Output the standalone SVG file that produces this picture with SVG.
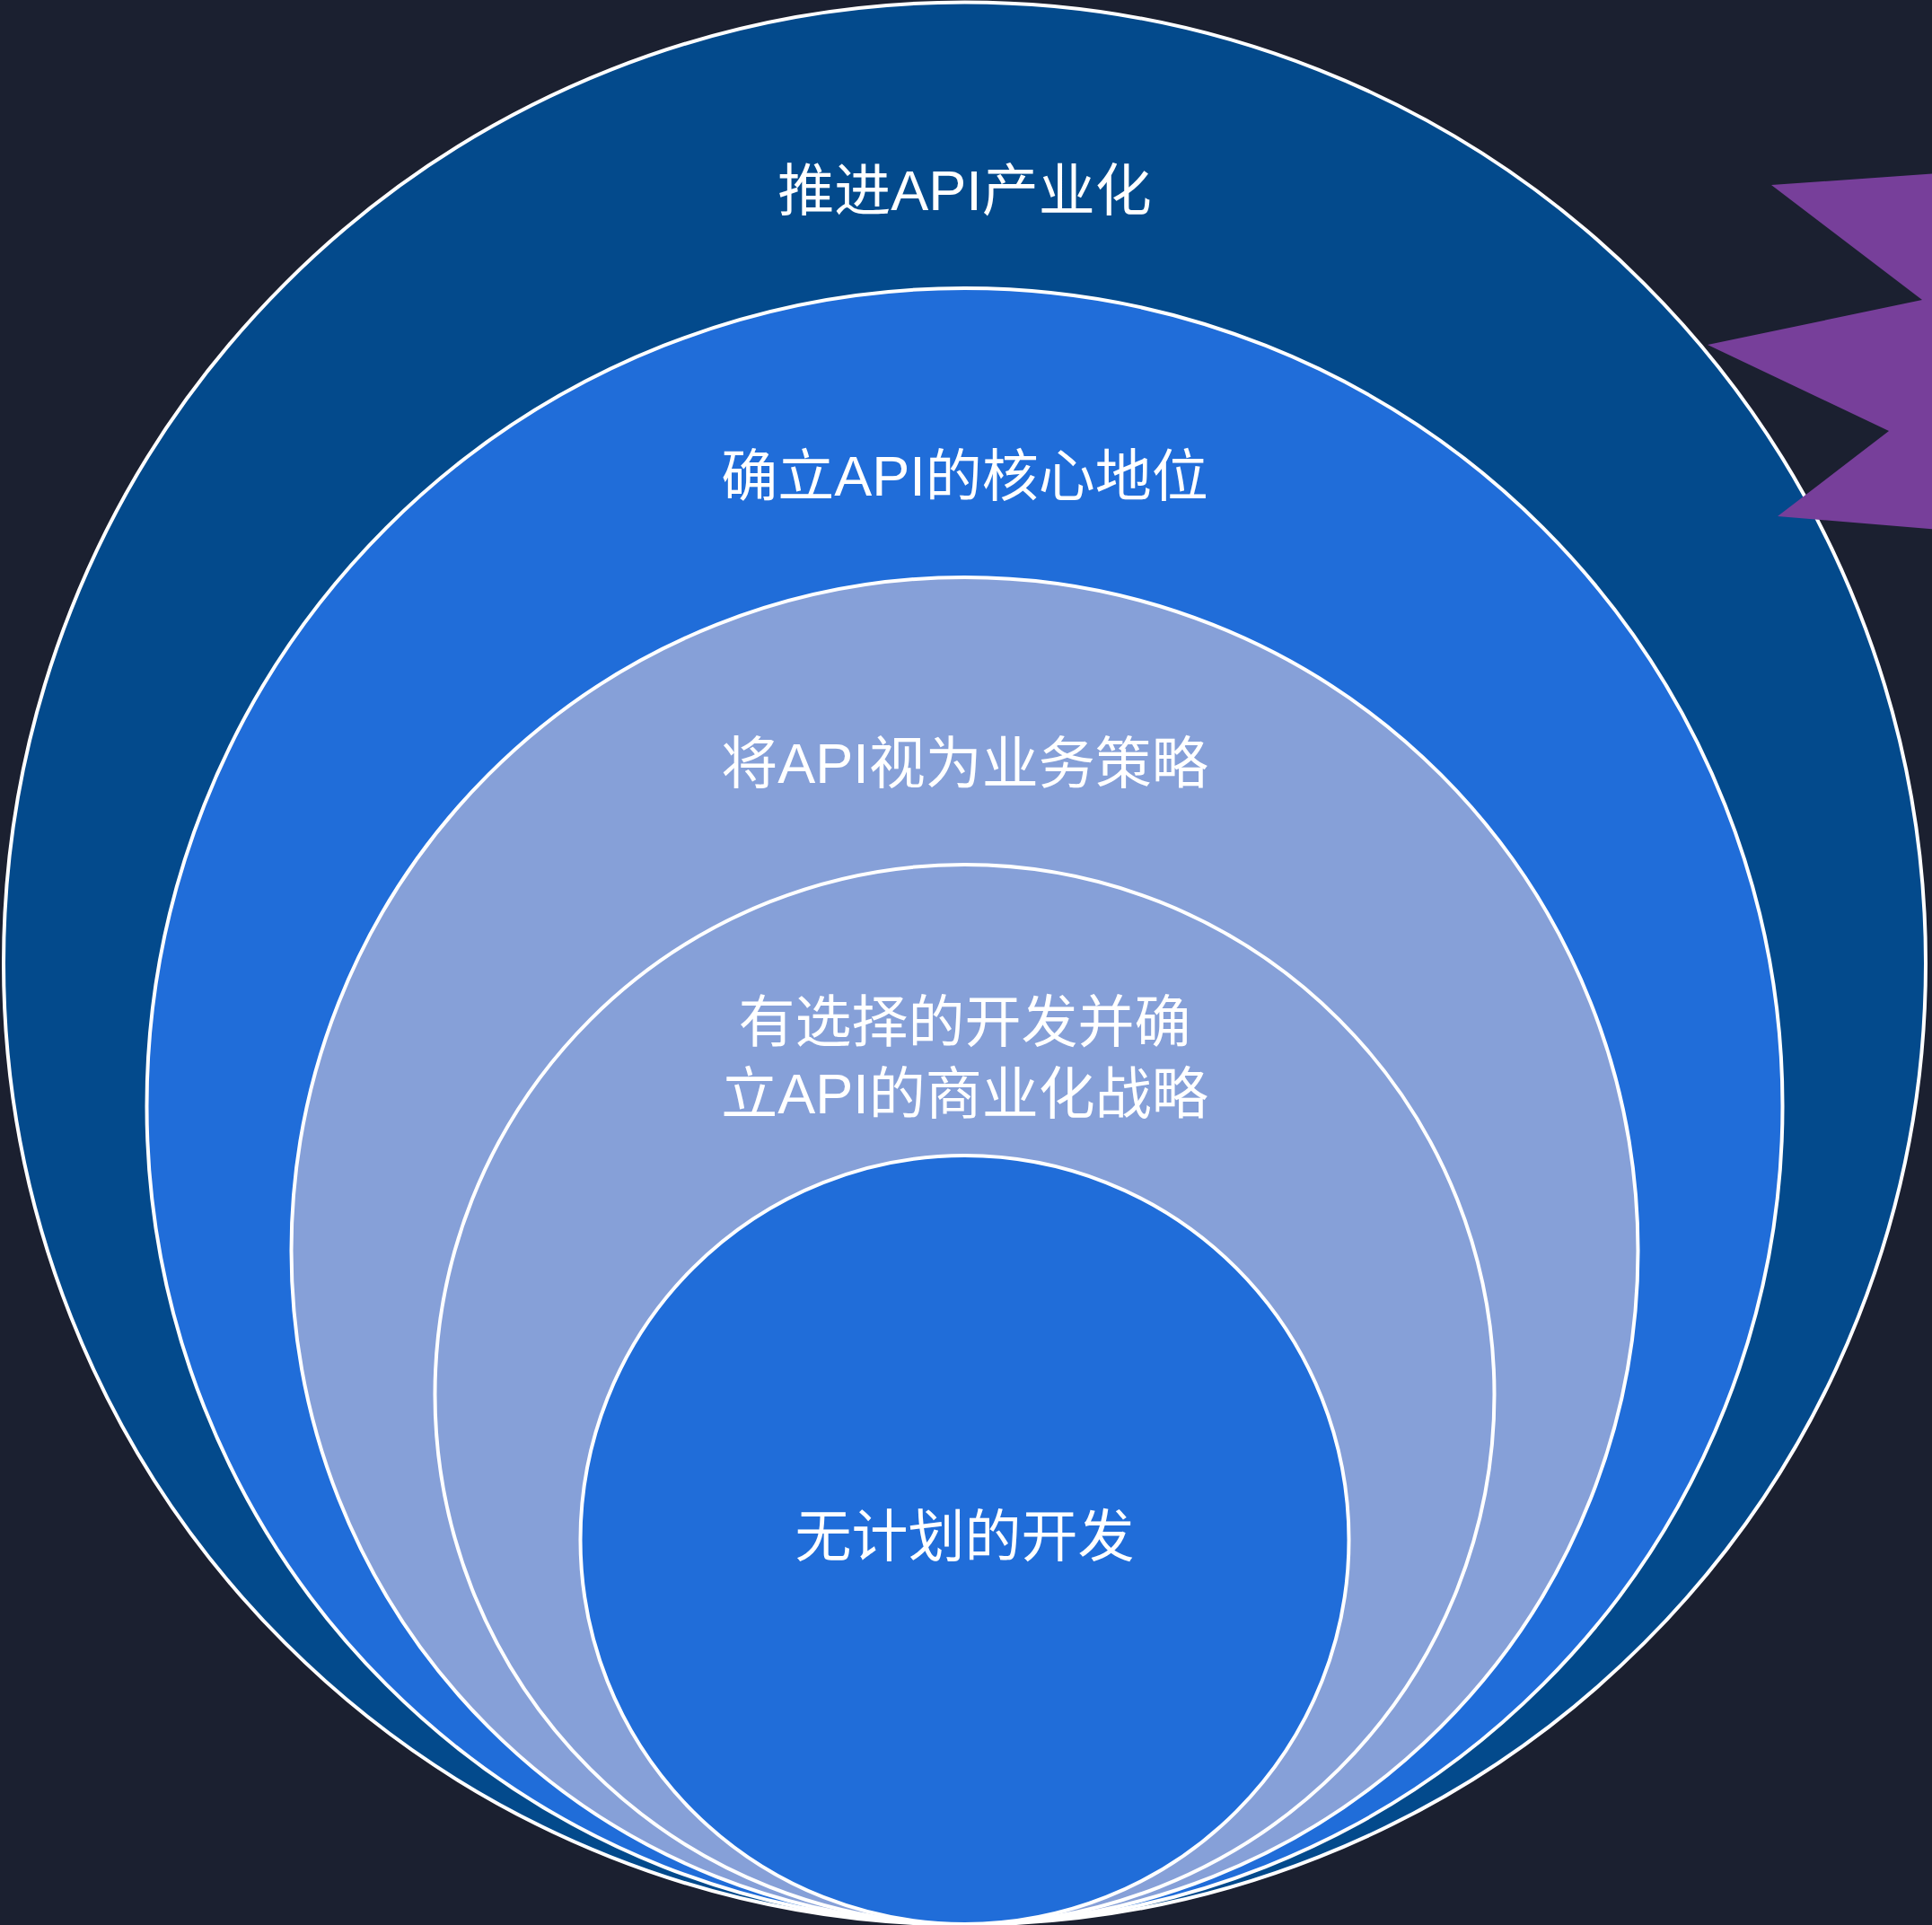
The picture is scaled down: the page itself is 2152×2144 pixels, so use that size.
<svg xmlns="http://www.w3.org/2000/svg" width="2152" height="2144" viewBox="0 0 2152 2144">
  <style>
    .ring { stroke: #FFFFFF; stroke-width: 4; }
    .dark { fill: #034A8C; }
    .mid { fill: #206DD9; }
    .light { fill: #86A0D8; }
    .label { fill: #FFFFFF; font-family: "Liberation Sans", "Noto Sans CJK SC", sans-serif; font-size: 63px; text-anchor: middle; }
  </style>
  <rect x="0" y="0" width="2152" height="2144" fill="#1B2030"/>
  <g id="level5">
    <circle class="ring dark" cx="1074.5" cy="1073" r="1070.5"/>
    <text class="label" x="1074.5" y="234">推进API产业化</text>
  </g>
  <g id="level4">
    <circle class="ring mid" cx="1074.5" cy="1232" r="911"/>
    <text class="label" x="1074.5" y="552">确立API的核心地位</text>
  </g>
  <g id="level3">
    <circle class="ring light" cx="1074.5" cy="1393" r="750"/>
    <text class="label" x="1074.5" y="872">将API视为业务策略</text>
  </g>
  <g id="level2">
    <circle class="ring light" cx="1074.5" cy="1553" r="590"/>
    <text class="label" x="1074.5" y="1160">有选择的开发并确</text>
    <text class="label" x="1074.5" y="1240">立API的商业化战略</text>
  </g>
  <g id="level1">
    <circle class="ring mid" cx="1074.5" cy="1715" r="428"/>
    <text class="label" x="1074.5" y="1733">无计划的开发</text>
  </g>
  <g id="burst">
    <polygon fill="#773F9A" points="1973,206 2160,193 2160,590 1980,575 2104,480 1902,384 2141,334"/>
  </g>
</svg>
